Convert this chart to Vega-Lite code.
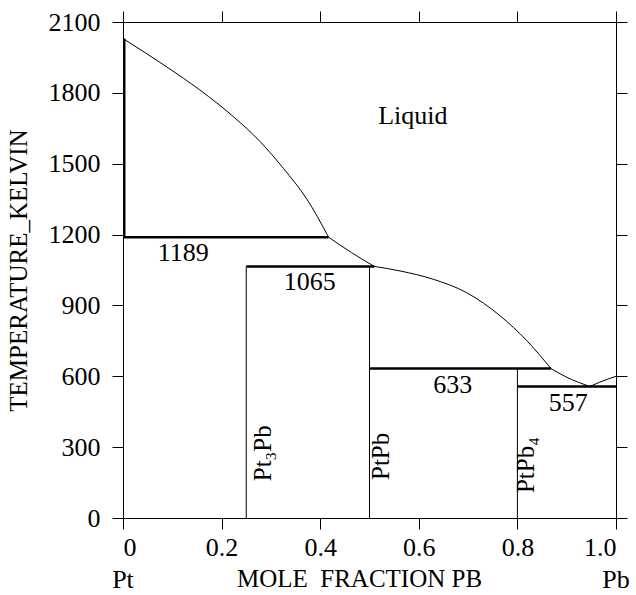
{
  "$schema": "https://vega.github.io/schema/vega-lite/v6.json",
  "autosize": {"type": "none"},
  "padding": {"left": 123, "top": 22, "right": 20, "bottom": 77},
  "width": 493,
  "height": 496,
  "background": "white",
  "config": {
    "font": "Liberation Serif",
    "view": {"stroke": "black", "strokeWidth": 1},
    "axis": {
      "labelFont": "Liberation Serif", "titleFont": "Liberation Serif",
      "labelFontSize": 26, "titleFontSize": 25, "labelColor": "black", "titleColor": "black",
      "titleFontWeight": "normal", "tickColor": "black", "tickSize": 11, "tickWidth": 1,
      "domain": false, "grid": false
    }
  },
  "datasets": {
    "curves": [
      {"seg": "a", "x": 0.0, "t": 2030}, {"seg": "a", "x": 0.0886, "t": 1910}, {"seg": "a", "x": 0.156, "t": 1812},
      {"seg": "a", "x": 0.224, "t": 1699}, {"seg": "a", "x": 0.278, "t": 1594}, {"seg": "a", "x": 0.325, "t": 1481},
      {"seg": "a", "x": 0.373, "t": 1350}, {"seg": "a", "x": 0.417, "t": 1189},
      {"seg": "b", "x": 0.417, "t": 1189}, {"seg": "b", "x": 0.464, "t": 1123}, {"seg": "b", "x": 0.51, "t": 1065},
      {"seg": "c", "x": 0.51, "t": 1065}, {"seg": "c", "x": 0.562, "t": 1046}, {"seg": "c", "x": 0.629, "t": 1011},
      {"seg": "c", "x": 0.697, "t": 954}, {"seg": "c", "x": 0.765, "t": 856}, {"seg": "c", "x": 0.819, "t": 751},
      {"seg": "c", "x": 0.868, "t": 633},
      {"seg": "d", "x": 0.868, "t": 633}, {"seg": "d", "x": 0.9, "t": 596}, {"seg": "d", "x": 0.947, "t": 557},
      {"seg": "e", "x": 0.947, "t": 557}, {"seg": "e", "x": 0.967, "t": 575}, {"seg": "e", "x": 1.0, "t": 600}
    ],
    "ties": [
      {"x1": 0.0, "x2": 0.417, "t": 1189},
      {"x1": 0.25, "x2": 0.51, "t": 1065},
      {"x1": 0.5, "x2": 0.868, "t": 633},
      {"x1": 0.8, "x2": 1.0, "t": 557}
    ],
    "verts": [
      {"x": 0.25, "t1": 0, "t2": 1065},
      {"x": 0.5, "t1": 0, "t2": 1065},
      {"x": 0.8, "t1": 0, "t2": 633}
    ],
    "solidus": [{"x": 0.003, "t1": 1189, "t2": 2030}],
    "labels": [
      {"x": 0.122, "t": 1122, "txt": "1189"},
      {"x": 0.379, "t": 999, "txt": "1065"},
      {"x": 0.669, "t": 561, "txt": "633"},
      {"x": 0.903, "t": 485, "txt": "557"},
      {"x": 0.588, "t": 1704, "txt": "Liquid"}
    ],
    "phases": [
      {"x": 0.283, "t": 274, "txt": "Pt₃Pb"},
      {"x": 0.523, "t": 261, "txt": "PtPb"},
      {"x": 0.817, "t": 224, "txt": "PtPb₄"}
    ],
    "ends": [
      {"x": 0.0, "t": -262, "txt": "Pt"},
      {"x": 1.0, "t": -262, "txt": "Pb"}
    ]
  },
  "resolve": {"axis": {"x": "independent", "y": "independent"}},
  "layer": [
    {
      "data": {"name": "curves"},
      "mark": {"type": "line", "color": "black", "strokeWidth": 1, "interpolate": "monotone"},
      "encoding": {
        "x": {"field": "x", "type": "quantitative", "scale": {"domain": [0, 1], "nice": false},
          "axis": {"values": [0, 0.2, 0.4, 0.6, 0.8, 1.0], "labelExpr": "datum.value == 0 ? '0' : format(datum.value, '.1f')",
            "title": "MOLE\u00a0 FRACTION PB", "labelPadding": 5, "titlePadding": 6, "titleX": 236}},
        "y": {"field": "t", "type": "quantitative", "scale": {"domain": [0, 2100], "nice": false},
          "axis": {"values": [0, 300, 600, 900, 1200, 1500, 1800, 2100], "format": "d", "title": "TEMPERATURE_KELVIN", "labelPadding": 12, "titlePadding": 17}},
        "detail": {"field": "seg"}
      }
    },
    {
      "data": {"name": "ties"},
      "mark": {"type": "rule", "color": "black", "strokeWidth": 2.5},
      "encoding": {
        "x": {"field": "x1", "type": "quantitative", "axis": {"orient": "top", "labels": false, "title": null, "values": [0, 0.2, 0.4, 0.6, 0.8, 1.0]}},
        "x2": {"field": "x2"},
        "y": {"field": "t", "type": "quantitative", "axis": {"orient": "right", "labels": false, "title": null, "values": [0, 300, 600, 900, 1200, 1500, 1800, 2100]}}
      }
    },
    {
      "data": {"name": "verts"},
      "mark": {"type": "rule", "color": "black", "strokeWidth": 1},
      "encoding": {
        "x": {"field": "x", "type": "quantitative", "axis": null},
        "y": {"field": "t1", "type": "quantitative", "axis": null},
        "y2": {"field": "t2"}
      }
    },
    {
      "data": {"name": "solidus"},
      "mark": {"type": "rule", "color": "black", "strokeWidth": 2},
      "encoding": {
        "x": {"field": "x", "type": "quantitative", "axis": null},
        "y": {"field": "t1", "type": "quantitative", "axis": null},
        "y2": {"field": "t2"}
      }
    },
    {
      "data": {"name": "labels"},
      "mark": {"type": "text", "font": "Liberation Serif", "fontSize": 26, "color": "black", "align": "center", "baseline": "middle"},
      "encoding": {
        "x": {"field": "x", "type": "quantitative", "axis": null},
        "y": {"field": "t", "type": "quantitative", "axis": null},
        "text": {"field": "txt"}
      }
    },
    {
      "data": {"name": "phases"},
      "mark": {"type": "text", "font": "Liberation Serif", "fontSize": 25, "color": "black", "align": "center", "baseline": "middle", "angle": 270},
      "encoding": {
        "x": {"field": "x", "type": "quantitative", "axis": null},
        "y": {"field": "t", "type": "quantitative", "axis": null},
        "text": {"field": "txt"}
      }
    },
    {
      "data": {"name": "ends"},
      "mark": {"type": "text", "font": "Liberation Serif", "fontSize": 26, "color": "black", "align": "center", "baseline": "middle"},
      "encoding": {
        "x": {"field": "x", "type": "quantitative", "axis": null},
        "y": {"field": "t", "type": "quantitative", "axis": null},
        "text": {"field": "txt"}
      }
    }
  ]
}
